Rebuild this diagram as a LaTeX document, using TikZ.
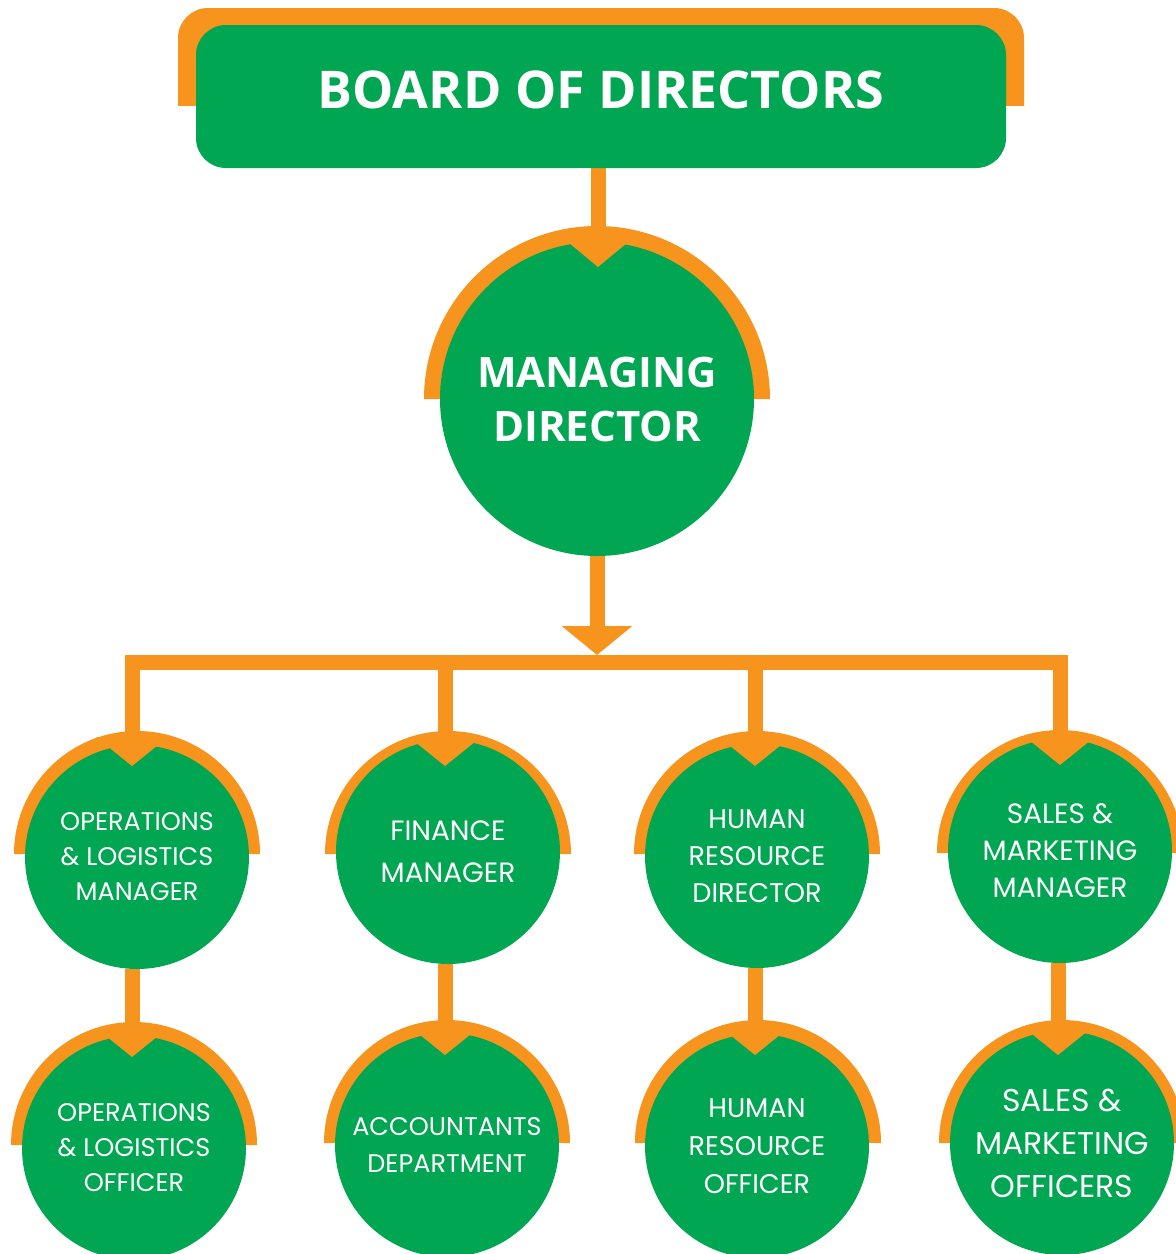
\documentclass[tikz,border=0pt]{standalone}
\usepackage{fontspec}
\setmainfont{Poppins}
\newfontfamily\headfont{Open Sans}
\usetikzlibrary{backgrounds,arrows.meta}
\definecolor{brdgreen}{RGB}{0,166,81}
\definecolor{brdorange}{RGB}{247,148,29}
\tikzset{
  conn/.style={draw=brdorange, line width=15pt},
  gcirc/.style={circle, fill=brdgreen, text=white, align=center, inner sep=0pt},
  smallc/.style={gcirc, minimum size=224pt},
  bigc/.style={gcirc, minimum size=314pt},
}
\newcommand\orgring[3]{\fill[brdorange] (#1-#3,-#2) arc[start angle=180,end angle=0,radius=#3] -- cycle;}
\newcommand\orgnotch[5]{\fill[brdorange] (#1-#5,-#2+#3) -- (#1+#5,-#2+#3) -- (#1,-#2+#4) -- cycle;}
\newcommand\fs[2]{\fontsize{#1}{#2}\selectfont}
\begin{document}
\begin{tikzpicture}[x=1pt,y=1pt]
\useasboundingbox (0,0) rectangle (1176,-1254);
% board bracket
\begin{scope}
\clip (0,-105) rectangle (1176,0);
\fill[brdorange, rounded corners=30pt] (178,-8) rectangle (1024,-200);
\end{scope}
\node[fill=brdgreen, rounded corners=30pt, minimum width=810pt, minimum height=143pt, inner sep=0pt,
      text=white, font=\headfont\bfseries\fs{52}{60}, text height=38pt, text depth=14pt] (board) at (601,-96.5) {BOARD OF DIRECTORS};

% coordinates of the bus
\coordinate (bl) at (132,-662);
\coordinate (b2) at (445,-662);
\coordinate (b3) at (755,-662);
\coordinate (br) at (1060,-662);
\coordinate (bus) at (597,-655);

% orange rings
\orgring{597}{399}{173}
\orgring{137}{854}{123}
\orgring{448}{854}{123}
\orgring{757}{854}{123}
\orgring{1060}{853}{123}
\orgring{134}{1145}{123}
\orgring{447}{1143}{123}
\orgring{758}{1143}{123}
\orgring{1062}{1143}{123}

% managing director
\node[bigc, font=\headfont\bfseries\fs{42}{54}] (md) at (597,-399) {MANAGING\\DIRECTOR};

% level 2
\node[smallc, font=\fs{25.5}{35}] (c1) at (137,-857) {OPERATIONS\\\& LOGISTICS\\MANAGER};
\node[smallc, font=\fs{28}{42}] (c2) at (448,-852) {FINANCE\\MANAGER};
\node[smallc, font=\fs{27}{37}] (c3) at (757,-856) {HUMAN\\RESOURCE\\DIRECTOR};
\node[smallc, font=\fs{28}{37}] (c4) at (1060,-851) {SALES \&\\MARKETING\\MANAGER};

% level 3
\node[smallc, font=\fs{25.5}{35}] (d1) at (134,-1148) {OPERATIONS\\\& LOGISTICS\\OFFICER};
\node[smallc, font=\fs{25.5}{37}] (d2) at (447,-1145) {ACCOUNTANTS\\DEPARTMENT};
\node[smallc, font=\fs{27}{38}] (d3) at (757,-1146) {HUMAN\\RESOURCE\\OFFICER};
\node[smallc, font=\fs{31.5}{43}] (d4) at (1062,-1143) {SALES \&\\MARKETING\\OFFICERS};

% notches
\orgnotch{598}{399}{161}{132}{35}
\orgnotch{132}{854}{117}{88}{36}
\orgnotch{445}{854}{117}{88}{36}
\orgnotch{755}{854}{117}{88}{36}
\orgnotch{1060}{853}{117}{88}{36}
\orgnotch{132}{1145}{117}{88}{36}
\orgnotch{445}{1143}{117}{88}{36}
\orgnotch{755}{1143}{117}{88}{36}
\orgnotch{1058}{1143}{117}{88}{36}

% connectors
\begin{pgfonlayer}{background}
\draw[conn] (board.south -| 598,0) -- (598,-230);
\draw[conn, -{Triangle[width=69pt,length=29pt]}] (md.south) -- (bus);
\draw[conn, line join=miter] (bl |- c1.north) -- (bl) -- (br) -- (br |- c4.north);
\draw[conn] (b2) -- (b2 |- c2.north);
\draw[conn] (b3) -- (b3 |- c3.north);
\draw[conn] (bl |- c1.south) -- (bl |- d1.north);
\draw[conn] (b2 |- c2.south) -- (b2 |- d2.north);
\draw[conn] (b3 |- c3.south) -- (b3 |- d3.north);
\draw[conn] (c4.south -| 1058,0) -- (d4.north -| 1058,0);
\end{pgfonlayer}
\end{tikzpicture}
\end{document}
